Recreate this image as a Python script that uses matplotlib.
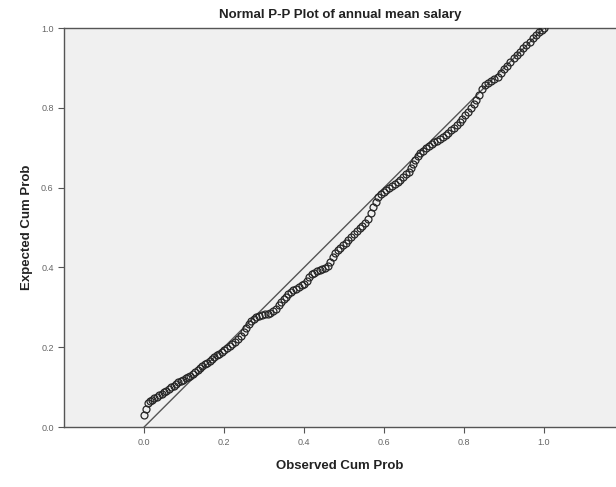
import numpy as np
import matplotlib
matplotlib.use("Agg")
import matplotlib.pyplot as plt

plt.rcParams['font.family'] = ['Liberation Sans', 'DejaVu Sans']

# observed cum prob (x) vs expected cum prob (y)
observed = [0.000, 0.006, 0.010, 0.015, 0.020, 0.026, 0.032, 0.038, 0.044, 0.050,
            0.056, 0.062, 0.068, 0.074, 0.080, 0.086, 0.092, 0.098, 0.104, 0.110,
            0.116, 0.122, 0.128, 0.134, 0.140, 0.146, 0.152, 0.158, 0.164, 0.170,
            0.176, 0.182, 0.188, 0.194, 0.200, 0.207, 0.214, 0.221, 0.228, 0.235,
            0.242, 0.249, 0.256, 0.262, 0.268, 0.274, 0.281, 0.288, 0.295, 0.302,
            0.309, 0.316, 0.323, 0.330, 0.337, 0.343, 0.349, 0.355, 0.361, 0.367,
            0.373, 0.380, 0.387, 0.394, 0.401, 0.407, 0.413, 0.419, 0.425, 0.432,
            0.439, 0.446, 0.453, 0.460, 0.466, 0.472, 0.478, 0.484, 0.490, 0.497,
            0.504, 0.511, 0.518, 0.525, 0.532, 0.539, 0.546, 0.553, 0.560, 0.567,
            0.573, 0.579, 0.585, 0.592, 0.599, 0.606, 0.613, 0.620, 0.627, 0.634,
            0.641, 0.648, 0.655, 0.662, 0.668, 0.673, 0.678, 0.684, 0.691, 0.698,
            0.705, 0.712, 0.719, 0.726, 0.733, 0.740, 0.747, 0.754, 0.761, 0.768,
            0.775, 0.782, 0.789, 0.796, 0.803, 0.810, 0.817, 0.824, 0.831, 0.838,
            0.845, 0.852, 0.860, 0.868, 0.876, 0.884, 0.892, 0.900, 0.908, 0.916,
            0.924, 0.932, 0.940, 0.948, 0.956, 0.964, 0.972, 0.980, 0.988, 0.995,
            1.000]
expected = [0.030, 0.045, 0.060, 0.066, 0.069, 0.072, 0.076, 0.080, 0.083, 0.087,
            0.091, 0.095, 0.100, 0.104, 0.108, 0.112, 0.116, 0.119, 0.122, 0.125,
            0.128, 0.133, 0.139, 0.144, 0.148, 0.153, 0.157, 0.161, 0.166, 0.170,
            0.175, 0.180, 0.184, 0.189, 0.194, 0.199, 0.203, 0.208, 0.214, 0.221,
            0.228, 0.238, 0.248, 0.258, 0.266, 0.272, 0.276, 0.279, 0.281, 0.283,
            0.284, 0.286, 0.290, 0.297, 0.305, 0.313, 0.320, 0.327, 0.333, 0.338,
            0.343, 0.347, 0.351, 0.355, 0.359, 0.367, 0.376, 0.383, 0.387, 0.390,
            0.393, 0.396, 0.399, 0.404, 0.414, 0.426, 0.436, 0.444, 0.450, 0.456,
            0.462, 0.469, 0.477, 0.485, 0.492, 0.499, 0.505, 0.512, 0.522, 0.537,
            0.552, 0.565, 0.576, 0.584, 0.590, 0.595, 0.600, 0.605, 0.610, 0.615,
            0.620, 0.626, 0.633, 0.640, 0.648, 0.658, 0.670, 0.680, 0.687, 0.693,
            0.699, 0.705, 0.710, 0.714, 0.718, 0.722, 0.727, 0.732, 0.738, 0.744,
            0.750, 0.757, 0.764, 0.772, 0.781, 0.790, 0.800, 0.810, 0.820, 0.832,
            0.848, 0.857, 0.862, 0.867, 0.872, 0.878, 0.887, 0.897, 0.906, 0.915,
            0.924, 0.932, 0.941, 0.949, 0.957, 0.965, 0.974, 0.982, 0.990, 0.996,
            1.000]
ref_line = [0.0, 1.0]
ticks = [0.0, 0.2, 0.4, 0.6, 0.8, 1.0]

fig = plt.figure(figsize=(6.16, 4.87), dpi=100)
ax = fig.add_axes([0.104, 0.123, 0.896, 0.8195])
ax.set_facecolor('#f0f0f0')

ax.plot(ref_line, ref_line, color='#555555', lw=1.0, zorder=2)
ax.plot(observed, expected, linestyle='none', marker='o', markersize=5.0,
        markerfacecolor='none', markeredgecolor='#262626', markeredgewidth=0.9, zorder=3)

ax.set_xlim(-0.2, 1.18)
ax.set_ylim(0.0, 1.0)
ax.set_xticks(ticks)
ax.set_yticks(ticks)
ax.set_xticklabels(['%.1f' % t for t in ticks])
ax.set_yticklabels(['%.1f' % t for t in ticks])
ax.tick_params(labelsize=6.5, labelcolor='#666666', color='#555555', length=4, width=0.8)

for s in ['left', 'bottom', 'top']:
    ax.spines[s].set_color('#555555')
    ax.spines[s].set_linewidth(1.0)
ax.spines['right'].set_visible(False)

ax.set_title('Normal P-P Plot of annual mean salary', fontsize=9.5, fontweight='bold',
             color='#222222', pad=7)
ax.set_xlabel('Observed Cum Prob', fontsize=9.5, fontweight='bold', color='#222222', labelpad=10)
ax.set_ylabel('Expected Cum Prob', fontsize=9.5, fontweight='bold', color='#222222', labelpad=6)

fig.savefig('out.png', dpi=100)
